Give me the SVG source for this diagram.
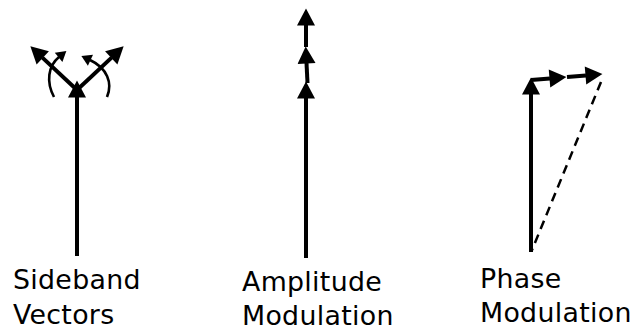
<svg xmlns="http://www.w3.org/2000/svg" width="632" height="329" viewBox="0 0 632 329">
<style>
.v{stroke:#000;stroke-width:4;fill:none;marker-end:url(#big)}
.c{stroke:#000;stroke-width:2.6;fill:none;marker-end:url(#small)}
.d{stroke:#000;stroke-width:2.5;fill:none;stroke-dasharray:9 6}
text{font-family:"DejaVu Sans",sans-serif;font-size:26.8px;letter-spacing:0.3px;fill:#000}
</style>
<defs>
<marker id="big" markerUnits="userSpaceOnUse" viewBox="0 -10 20 20" refX="0.5" refY="0" markerWidth="20" markerHeight="20" orient="auto" overflow="visible">
<path d="M0,-9 L17,0 L0,9 z" fill="#000"/>
</marker>
<marker id="small" markerUnits="userSpaceOnUse" viewBox="0 -8 14 16" refX="0.5" refY="0" markerWidth="14" markerHeight="16" orient="auto" overflow="visible">
<path d="M0,-6 L10,0 L0,6 z" fill="#000"/>
</marker>
</defs>
<g id="connectors">
<g id="sideband-vectors">
<line class="v" x1="77" y1="256" x2="77" y2="97"/>
<line class="v" x1="77" y1="90" x2="42.4" y2="57.6"/>
<line class="v" x1="77" y1="90" x2="111.6" y2="57.6"/>
<path class="c" d="M54,97 C46,82 48,66 59,57"/>
<path class="c" d="M107,97 C113,83 107,68 90,60"/>
</g>
<g id="amplitude-vectors">
<line class="v" x1="306" y1="258" x2="306" y2="98"/>
<line class="v" x1="307.5" y1="83" x2="306.5" y2="63"/>
<line class="v" x1="306" y1="47" x2="306" y2="25"/>
</g>
<g id="phase-vectors">
<line class="v" x1="531" y1="252" x2="531" y2="94"/>
<line class="v" x1="531" y1="80" x2="550" y2="78.4"/>
<line class="v" x1="567" y1="77" x2="586" y2="75.4"/>
<line class="d" x1="601" y1="82" x2="532" y2="250"/>
</g>
</g>
<g id="label-sideband">
<text x="13" y="289">Sideband</text>
<text x="13" y="324">Vectors</text>
</g>
<g id="label-amplitude">
<text x="242" y="291">Amplitude</text>
<text x="242" y="325">Modulation</text>
</g>
<g id="label-phase">
<text x="480" y="288">Phase</text>
<text x="480" y="322">Modulation</text>
</g>
</svg>
